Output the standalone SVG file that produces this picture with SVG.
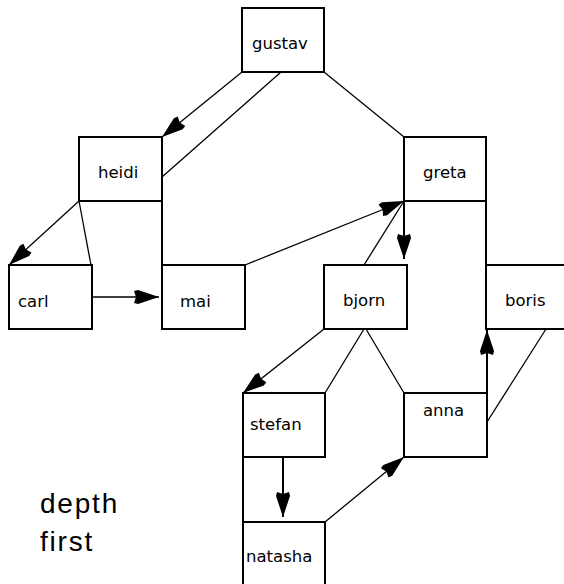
<svg xmlns="http://www.w3.org/2000/svg" width="564" height="584" viewBox="0 0 564 584">
<defs>
<style>
.box{fill:#fff;stroke:#000;stroke-width:2}
.lbl{font-family:"DejaVu Sans",Verdana,sans-serif;font-size:16.5px;fill:#000}
.edge{stroke:#000;stroke-width:1.3;fill:none}
.edge2{stroke:#000;stroke-width:2;fill:none}
.arr{marker-end:url(#ah)}
.big{font-family:"Liberation Sans",Arial,sans-serif;font-size:28px;letter-spacing:1.8px;fill:#000}
</style>
<marker id="ah" markerUnits="userSpaceOnUse" viewBox="-27 -8 28 16" refX="0" refY="0" markerWidth="28" markerHeight="16" orient="auto" overflow="visible">
<path d="M0,0 L-21,-7 L-25,-6 L-23,0 L-25,6 L-21,7 Z" fill="#000"/>
</marker>
</defs>
<rect width="564" height="584" fill="#fff"/>
<g id="gustav"><rect class="box" x="242" y="8" width="82" height="64"/><text class="lbl" x="252" y="49">gustav</text></g>
<g id="heidi"><rect class="box" x="79" y="137" width="83" height="64"/><text class="lbl" x="98" y="178">heidi</text></g>
<g id="greta"><rect class="box" x="404" y="137" width="82" height="64"/><text class="lbl" x="423" y="178">greta</text></g>
<g id="carl"><rect class="box" x="9" y="265" width="83" height="64"/><text class="lbl" x="18" y="307">carl</text></g>
<g id="mai"><rect class="box" x="162" y="265" width="83" height="64"/><text class="lbl" x="180" y="307">mai</text></g>
<g id="bjorn"><rect class="box" x="324" y="265" width="83" height="64"/><text class="lbl" x="343" y="306">bjorn</text></g>
<g id="boris"><rect class="box" x="486" y="265" width="84" height="64"/><text class="lbl" x="505" y="306">boris</text></g>
<g id="stefan"><rect class="box" x="243" y="393" width="82" height="64"/><text class="lbl" x="250" y="430">stefan</text></g>
<g id="anna"><rect class="box" x="404" y="393" width="83" height="64"/><text class="lbl" x="423" y="416">anna</text></g>
<g id="natasha"><rect class="box" x="243" y="522" width="82" height="70"/><text class="lbl" x="246" y="562">natasha</text></g>
<g id="connectors">
<line class="edge arr" x1="242" y1="72" x2="162" y2="137"/>
<line class="edge" x1="281" y1="72" x2="162" y2="177"/>
<line class="edge" x1="324" y1="72" x2="404" y2="137"/>
<line class="edge arr" x1="79" y1="201" x2="9" y2="265"/>
<line class="edge" x1="79" y1="201" x2="91" y2="265"/>
<line class="edge2" x1="162" y1="201" x2="162" y2="265"/>
<line class="edge arr" x1="92" y1="297" x2="159" y2="297"/>
<line class="edge arr" x1="245" y1="265" x2="404" y2="201"/>
<line class="edge" x1="364" y1="265" x2="404" y2="201"/>
<line class="edge2 arr" x1="404" y1="201" x2="404" y2="259"/>
<line class="edge2" x1="486" y1="201" x2="486" y2="265"/>
<line class="edge arr" x1="324" y1="329" x2="243" y2="393"/>
<line class="edge" x1="364" y1="329" x2="325" y2="393"/>
<line class="edge" x1="366" y1="329" x2="404" y2="393"/>
<line class="edge2 arr" x1="283" y1="457" x2="283" y2="517"/>
<line class="edge2" x1="243" y1="457" x2="243" y2="522"/>
<line class="edge arr" x1="325" y1="522" x2="404" y2="457"/>
<line class="edge2 arr" x1="487" y1="393" x2="487" y2="330"/>
<line class="edge" x1="487" y1="422" x2="546" y2="329"/>
</g>
<text class="big" x="40" y="513">depth</text>
<text class="big" x="40" y="551">first</text>
</svg>
